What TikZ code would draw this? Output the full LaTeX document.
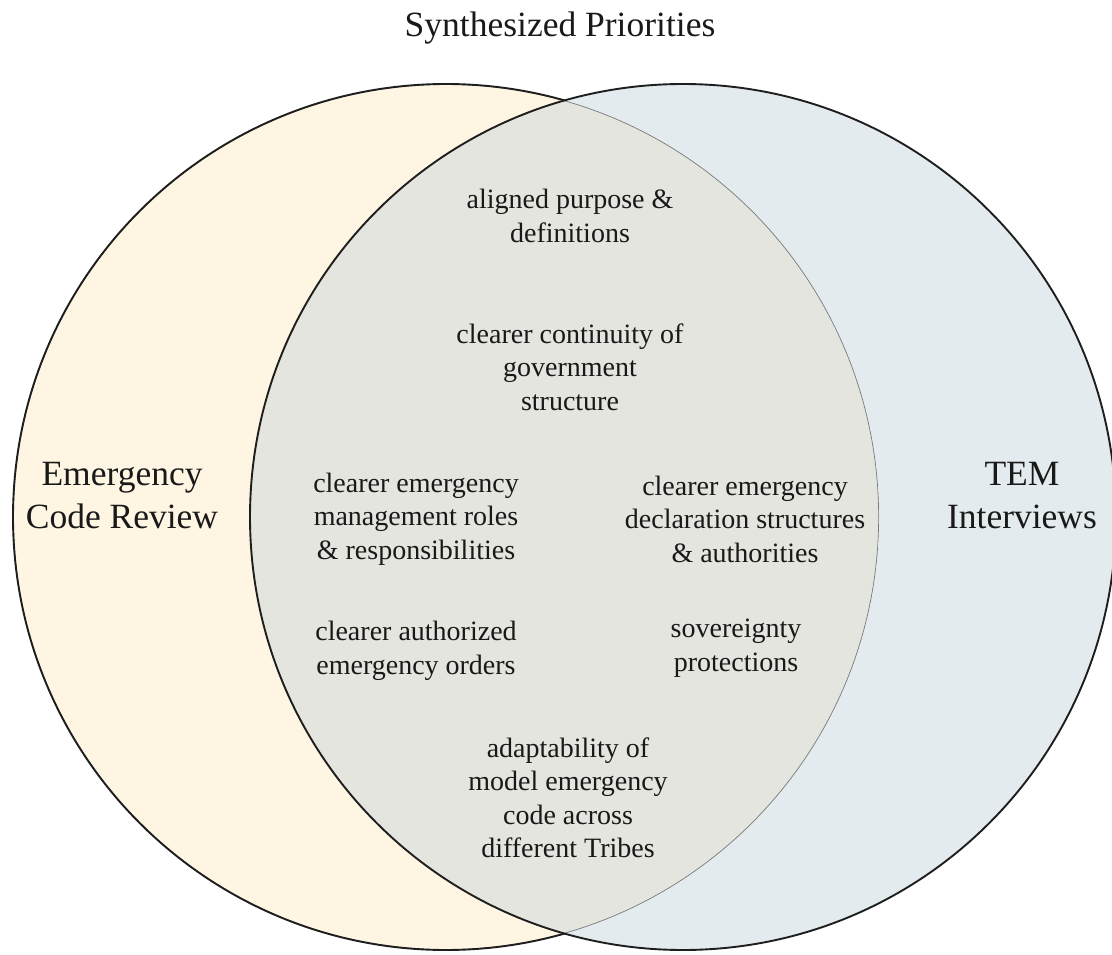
\documentclass[tikz,border=0pt]{standalone}
\usepackage{fontspec}
\setmainfont{Liberation Serif}
\definecolor{leftfill}{HTML}{FFF5E3}
\definecolor{rightfill}{HTML}{E3EBEE}
\definecolor{bothfill}{HTML}{E3E5DE}
\definecolor{edge}{HTML}{1E1E1E}
\definecolor{inneredge}{HTML}{767B7C}
\tikzset{
  big/.style={font=\fontsize{35.5}{43}\selectfont, align=center, text=black!90},
  item/.style={font=\fontsize{28}{33.5}\selectfont, align=center, text=black!90},
}
\begin{document}
\begin{tikzpicture}[x=1pt,y=-1pt]
\useasboundingbox (0,0) rectangle (1112,955);
\coordinate (cl) at (446,517);
\coordinate (cr) at (683,517);
% fills
\fill[leftfill] (cl) circle (433pt);
\fill[rightfill] (cr) circle (433pt);
\begin{scope}
  \clip (cl) circle (433pt);
  \fill[bothfill] (cr) circle (433pt);
  \draw[inneredge, line width=1.4pt] (cl) circle (433pt);
\end{scope}
% outlines
\begin{scope}[even odd rule]
  \clip (0,0) rectangle (1112,955) (cr) circle (433pt);
  \draw[edge, line width=1.9pt] (cl) circle (433pt);
\end{scope}
\draw[edge, line width=1.9pt] (cr) circle (433pt);
% texts
\node[big, anchor=base] (title) at (560,37) {Synthesized Priorities};
\node[big] (ecr) at (122,496) {Emergency\\Code Review};
\node[big] (tem) at (1022,496) {TEM\\Interviews};
\node[item] (a1) at (570,216) {aligned purpose \&\\definitions};
\node[item] (a2) at (570,367) {clearer continuity of\\government\\structure};
\node[item] (a3) at (416,519) {clearer emergency\\management roles\\\& responsibilities};
\node[item] (a4) at (745,519) {clearer emergency\\declaration structures\\\& authorities};
\node[item] (a5) at (416,651) {clearer authorized\\emergency orders};
\node[item] (a6) at (736,648) {sovereignty\\protections};
\node[item] (a7) at (568,798) {adaptability of\\model emergency\\code across\\different Tribes};
\end{tikzpicture}
\end{document}
